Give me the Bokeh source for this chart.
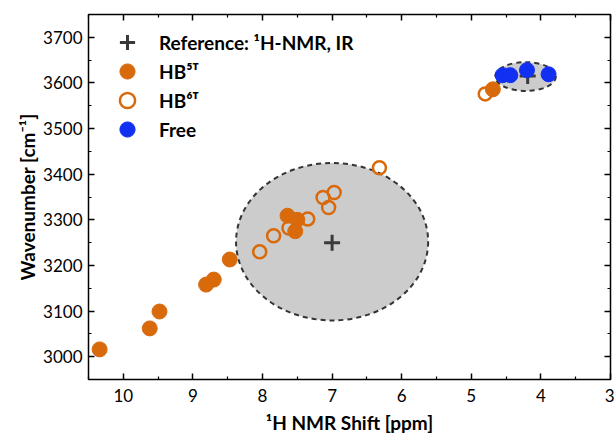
from bokeh.plotting import figure
from bokeh.models import (LinearAxis, Range1d, Legend, LegendItem, FixedTicker,
                          CustomLabelingPolicy)
from bokeh.embed import file_html
from bokeh.resources import INLINE

# ---- data ----
hb5_x = [10.34, 9.62, 9.48, 8.81, 8.70, 8.47, 7.64, 7.50, 7.53, 4.69]
hb5_y = [3016, 3062, 3099, 3158, 3169, 3213, 3309, 3300, 3275, 3586]

hb6_x = [8.04, 7.84, 7.62, 7.35, 7.13, 6.97, 7.05, 6.32, 4.80]
hb6_y = [3230, 3265, 3282, 3302, 3349, 3360, 3327, 3414, 3576]

free_x = [4.55, 4.44, 4.20, 3.89]
free_y = [3617, 3617, 3628, 3619]

ref_x = [7.0, 4.19]
ref_y = [3250, 3615]

ell_x = [7.0, 4.22]
ell_y = [3252, 3614]
ell_w = [2.76, 0.87]
ell_h = [345, 63]

x_ticks = [10, 9, 8, 7, 6, 5, 4, 3]
y_ticks = [3000, 3100, 3200, 3300, 3400, 3500, 3600, 3700]

legend_labels = ["Reference: ¹H-NMR, IR", "HB⁵ᵀ", "HB⁶ᵀ", "Free"]

ORANGE = "#d96a0c"
BLUE = "#1230f2"
DARK = "#3a3a3a"
FONT = "Lato"

p = figure(width=614, height=436, output_backend="svg", toolbar_location=None,
           x_range=Range1d(10.5, 3), y_range=Range1d(2950, 3750),
           x_axis_location=None, y_axis_location=None,
           min_border_left=88, min_border_top=14, min_border_right=4, min_border_bottom=52)
p.grid.visible = False
p.outline_line_color = "black"
p.outline_line_width = 1.5
p.background_fill_color = "white"
p.border_fill_color = "white"

hide_all = CustomLabelingPolicy(code="""
for (const i of indices) { indices.unset(i) }
return indices
""")

def make_axis(show_labels, label=None):
    ax = LinearAxis()
    ax.axis_line_color = None
    ax.major_tick_in = 6
    ax.major_tick_out = 0
    ax.minor_tick_in = 3
    ax.minor_tick_out = 0
    ax.major_tick_line_width = 1.5
    ax.minor_tick_line_width = 1.2
    ax.major_tick_line_color = "black"
    ax.minor_tick_line_color = "black"
    if show_labels:
        ax.major_label_text_font = FONT
        ax.major_label_text_font_size = "17px"
        ax.major_label_text_color = "black"
        ax.axis_label = label
        ax.axis_label_text_font = FONT
        ax.axis_label_text_font_size = "19px"
        ax.axis_label_text_font_style = "bold"
        ax.axis_label_text_color = "black"
    else:
        ax.major_label_policy = hide_all
        ax.major_label_text_font_size = "0px"
        ax.major_label_standoff = 0
        ax.axis_label = None
    return ax

xt = FixedTicker(ticks=x_ticks, minor_ticks=[10.5, 9.5, 8.5, 7.5, 6.5, 5.5, 4.5, 3.5])
yt = FixedTicker(ticks=y_ticks, minor_ticks=[2950, 3050, 3150, 3250, 3350, 3450, 3550, 3650, 3750])

bx = make_axis(True, "¹H NMR Shift [ppm]"); bx.ticker = xt
bx.major_label_standoff = 9
bx.axis_label_standoff = 6
ly = make_axis(True, "Wavenumber [cm⁻¹]"); ly.ticker = yt
ly.major_label_standoff = 6
ly.axis_label_standoff = 1
tx = make_axis(False); tx.ticker = xt
ry = make_axis(False); ry.ticker = yt
p.add_layout(bx, "below")
p.add_layout(ly, "left")
p.add_layout(tx, "above")
p.add_layout(ry, "right")

p.ellipse(x=ell_x, y=ell_y, width=ell_w, height=ell_h,
          fill_color="#cccccc", line_color="#333333", line_width=2, line_dash="5 4")

r_ref = p.scatter(ref_x, ref_y, marker="cross", size=16, line_color=DARK, line_width=3)
r_hb5 = p.scatter(hb5_x, hb5_y, marker="circle", size=15, fill_color=ORANGE, line_color=ORANGE, line_width=1)
r_hb6 = p.scatter(hb6_x, hb6_y, marker="circle", size=13, fill_color=None, line_color=ORANGE, line_width=2.5)
r_free = p.scatter(free_x, free_y, marker="circle", size=15, fill_color=BLUE, line_color=BLUE, line_width=1)

renderers = [r_ref, r_hb5, r_hb6, r_free]
# one legend per row so that rows can sit closer than the glyph height
row_bottoms = [318, 289, 260, 231]
for lab, r, vb in zip(legend_labels, renderers, row_bottoms):
    lg = Legend(items=[LegendItem(label=lab, renderers=[r])], location=(11, vb))
    lg.margin = 0
    lg.padding = 0
    lg.glyph_width = 56
    lg.glyph_height = 38
    lg.label_height = 20
    lg.label_standoff = 4
    lg.label_text_font = FONT
    lg.label_text_font_size = "19px"
    lg.label_text_font_style = "bold"
    lg.label_text_color = "black"
    lg.border_line_color = None
    lg.background_fill_alpha = 0
    p.add_layout(lg)

open("out.html", "w").write(file_html(p, INLINE))
